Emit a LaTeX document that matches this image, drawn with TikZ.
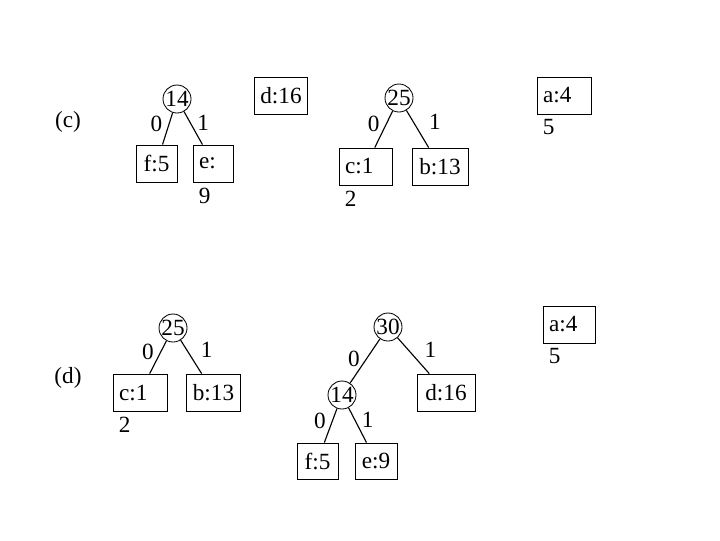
\documentclass[tikz,border=0pt]{standalone}
\usepackage{fontspec}
\setmainfont{Liberation Serif}
\usetikzlibrary{positioning}
\newdimen\px \px=0.025cm
\tikzset{
  box/.style={rectangle, draw=black, line width=0.6pt, minimum height=37\px,
              inner xsep=6\px, inner ysep=0pt},
  wrapbox/.style={box, text width=#1, align=left},
  sum/.style={circle, draw=black, line width=0.6pt, minimum size=28\px, inner sep=0pt},
  bit/.style={inner sep=4.5pt, pos=0.35},
  tag/.style={inner sep=0pt},
  link/.style={line width=0.8pt},
}

\begin{document}
\begin{tikzpicture}[x=1\px, y=-1\px, font=\fontsize{16.5}{18}\selectfont]
\useasboundingbox (0,0) rectangle (720,540);

% (c)
\node[tag] (labc) at (68,122) {(c)};
\node[sum] (c14) at (177,99) {14};
\node[box, minimum width=41\px] (cf5) at (156.5,163.5) {f:5};
\node[wrapbox=28\px] (ce) at (213,163.5) {e:};
\node[tag, anchor=north west] (ce9) at ([shift={(6,5)}]ce.south west) {9};
\node[box, minimum width=52\px] (cd16) at (281,95.5) {d:16};
\draw[link] (c14) -- node[bit, left] {0} (cf5);
\draw[link] (c14) -- node[bit, right] {1} (ce);

\node[sum] (c25) at (399,98) {25};
\node[wrapbox=41\px] (cc1) at (365.5,166.5) {c:1};
\node[tag, anchor=north west] (cc2) at ([shift={(6,5)}]cc1.south west) {2};
\node[box, minimum width=56\px] (cb13) at (440,166.5) {b:13};
\draw[link] (c25) -- node[bit, left] {0} (cc1);
\draw[link] (c25) -- node[bit, right, xshift=8\px, yshift=2\px] {1} (cb13);

\node[wrapbox=42\px] (ca4) at (564,95.5) {a:4};
\node[tag, anchor=north west] (ca5) at ([shift={(6,5)}]ca4.south west) {5};

% (d)
\node[tag] (labd) at (68,378) {(d)};
\node[sum] (d25) at (173,328) {25};
\node[wrapbox=42\px] (dc1) at (140,392.5) {c:1};
\node[tag, anchor=north west] (dc2) at ([shift={(6,5)}]dc1.south west) {2};
\node[box, minimum width=53\px] (db13) at (213.5,392.5) {b:13};
\draw[link] (d25) -- node[bit, left] {0} (dc1);
\draw[link] (d25) -- node[bit, right, xshift=6\px, yshift=2\px] {1} (db13);

\node[sum] (d30) at (388,327) {30};
\node[sum] (d14) at (342,395) {14};
\node[box, minimum width=58\px] (dd16) at (446,392.5) {d:16};
\node[box, minimum width=41\px, minimum height=36\px] (df5) at (317.5,461) {f:5};
\node[box, minimum width=42\px, minimum height=36\px] (de9) at (376,461) {e:9};
\draw[link] (d30) -- node[bit, left, pos=0.45] {0} (d14);
\draw[link] (d30) -- node[bit, right, xshift=9\px] {1} (dd16);
\draw[link] (d14) -- node[bit, left] {0} (df5);
\draw[link] (d14) -- node[bit, right] {1} (de9);

\node[wrapbox=40\px] (da4) at (569,324.5) {a:4};
\node[tag, anchor=north west] (da5) at ([shift={(6,5)}]da4.south west) {5};
\end{tikzpicture}
\end{document}
